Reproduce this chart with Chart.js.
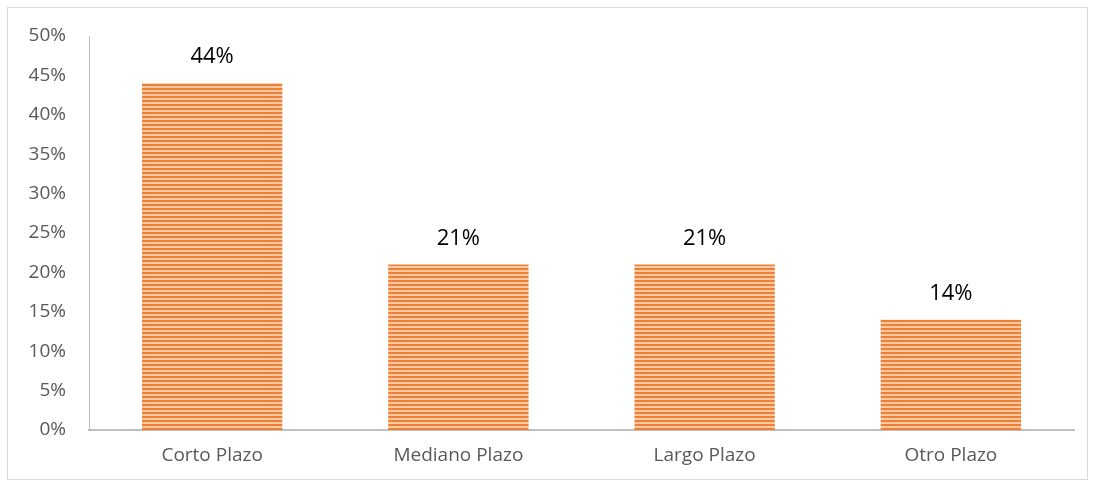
<!DOCTYPE html>
<html>
<head>
<meta charset="utf-8">
<script src="https://cdn.jsdelivr.net/npm/chart.js@4/dist/chart.umd.min.js"></script>
<style>
  body { margin: 0; background: #fff; }
  #frame { position: absolute; left: 7px; top: 7px; width: 1079px; height: 471px; border: 1px solid #d9d9d9; }
  #chart { display: block; }
</style>
</head>
<body>
<div id="frame"><canvas id="chart" width="1079" height="471"></canvas></div>
<script>
var categories = ['Corto Plazo', 'Mediano Plazo', 'Largo Plazo', 'Otro Plazo'];
var values = [44, 21, 21, 14];
var yTicks = [0, 5, 10, 15, 20, 25, 30, 35, 40, 45, 50];

// striped fill like the original
var pc = document.createElement('canvas');
pc.width = 1; pc.height = 4;
var pctx = pc.getContext('2d');
pctx.fillStyle = '#ef7f33'; pctx.fillRect(0, 0, 1, 2);
pctx.fillStyle = '#f8c9a4'; pctx.fillRect(0, 2, 1, 2);
var ctx = document.getElementById('chart').getContext('2d');
var stripes = ctx.createPattern(pc, 'repeat');

var valueLabels = {
    id: 'valueLabels',
    afterDatasetsDraw: function (chart) {
        var c = chart.ctx;
        var meta = chart.getDatasetMeta(0);
        c.save();
        c.font = '22px "Open Sans", sans-serif';
        c.fillStyle = '#000';
        c.textAlign = 'center';
        c.textBaseline = 'alphabetic';
        meta.data.forEach(function (bar, i) {
            c.fillText(values[i] + '%', bar.x, bar.y - 20);
        });
        c.restore();
    }
};

new Chart(ctx, {
    type: 'bar',
    data: {
        labels: categories,
        datasets: [{
            data: values,
            backgroundColor: stripes,
            borderWidth: 0,
            categoryPercentage: 0.57,
            barPercentage: 1
        }]
    },
    options: {
        responsive: false,
        animation: false,
        layout: { padding: { top: 28, right: 13, left: 0, bottom: 1 } },
        plugins: { legend: { display: false }, tooltip: { enabled: false } },
        scales: {
            x: {
                grid: { display: false, drawTicks: false },
                border: { color: '#bfbfbf', width: 2 },
                ticks: { color: '#595959', font: { family: 'Open Sans', size: 19 }, padding: 14 },
                afterFit: function (s) { s.height = 48; }
            },
            y: {
                min: 0, max: 50,
                afterBuildTicks: function (s) { s.ticks = yTicks.map(function (v) { return { value: v }; }); },
                grid: { display: false, drawTicks: false },
                border: { color: '#bfbfbf', width: 1 },
                ticks: {
                    color: '#595959', font: { family: 'Open Sans', size: 19 }, padding: 23,
                    callback: function (v) { return v + '%'; }
                },
                afterFit: function (s) { s.width = 81; s.paddingTop = 0; s.paddingBottom = 0; }
            }
        }
    },
    plugins: [valueLabels]
});
</script>
</body>
</html>
